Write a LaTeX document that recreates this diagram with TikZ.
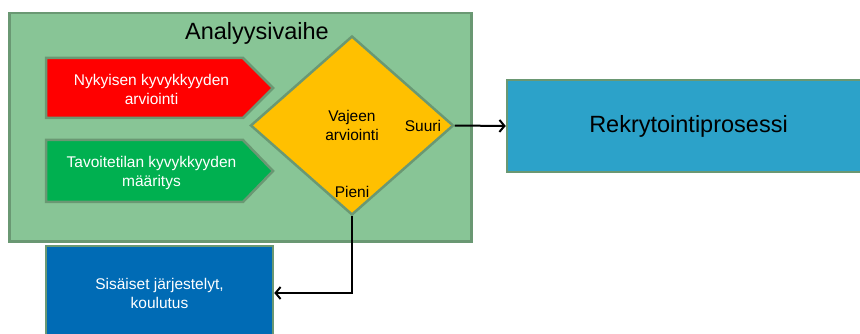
\documentclass[tikz,border=0pt]{standalone}
\usepackage{fontspec}
\setmainfont{Liberation Sans}
\usetikzlibrary{shapes.geometric,arrows.meta}
\definecolor{contfill}{HTML}{88C596}
\definecolor{edgecol}{HTML}{6A9873}
\definecolor{redfill}{HTML}{FF0000}
\definecolor{greenfill}{HTML}{00B050}
\definecolor{yellowfill}{HTML}{FFC000}
\definecolor{skyfill}{HTML}{2CA2C9}
\definecolor{bluefill}{HTML}{006BB5}
\begin{document}
\begin{tikzpicture}[x=1pt,y=-1pt,
  boxed/.style={draw=edgecol, line width=2.5pt, inner sep=0pt},
  small/.style={font=\fontsize{15.5}{19}\selectfont, align=center},
  big/.style={font=\fontsize{23.5}{28}\selectfont},
  conn/.style={draw=black, line width=2pt, -{Straight Barb[length=5pt,width=12pt,line width=2pt]}}]
\useasboundingbox (0,0) rectangle (860,334);
\clip (0,0) rectangle (860,334);
% container
\node[boxed, fill=contfill, minimum width=462pt, minimum height=228pt, anchor=north west] (phase) at (8,12) {};
\node[big] (title) at (257,33) {Analyysivaihe};
% pentagons
\draw[edgecol, line width=2.5pt, fill=redfill, line join=miter] (46,58) -- (243,58) -- (273,88) -- (243,118) -- (46,118) -- cycle;
\node[small, text=white] (cur) at (151.5,89.5) {Nykyisen kyvykkyyden\\arviointi};
\draw[edgecol, line width=2.5pt, fill=greenfill, line join=miter] (46,140) -- (243,140) -- (273,171) -- (243,202) -- (46,202) -- cycle;
\node[small, text=white] (goal) at (151.5,172.5) {Tavoitetilan kyvykkyyden\\määritys};
% diamond
\node[boxed, diamond, fill=yellowfill, minimum width=203pt, minimum height=179pt, small] (gap) at (352,125.5) {Vajeen\\arviointi};
\node[small] (suuri) at (423,126) {Suuri};
\node[small] (pieni) at (352,192) {Pieni};
% boxes
\node[boxed, fill=skyfill, minimum width=363pt, minimum height=92pt, big] (rek) at (688.5,126) {Rekrytointiprosessi};
\node[boxed, fill=bluefill, minimum width=227pt, minimum height=94pt, small, text=white] (sis) at (159.5,293) {Sisäiset järjestelyt,\\koulutus};
% connectors
\draw[conn] (gap.east) -- (rek.west);
\draw[conn] (gap.south) |- (sis.east);
\end{tikzpicture}
\end{document}
